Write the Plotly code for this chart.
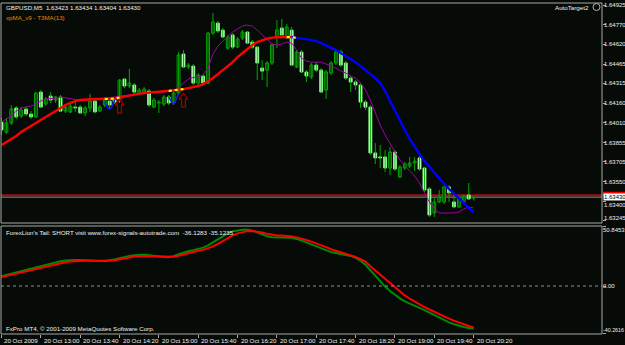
import plotly.graph_objects as go

# ---------------- data ----------------
bars = list(range(97))
open_ = [1.64015,1.63937,1.64007,1.64124,1.64061,1.64116,1.64077,1.64054,1.64248,1.64155,
         1.64217,1.64186,1.64209,1.64100,1.64093,1.64131,1.64131,1.64085,1.64124,1.64178,
         1.64100,1.64147,1.64178,1.64186,1.64186,1.64349,1.64295,1.64303,1.64240,1.64248,
         1.64256,1.64131,1.64163,1.64155,1.64209,1.64163,1.64240,1.64544,1.64443,1.64450,
         1.64318,1.64373,1.64318,1.64707,1.64785,1.64730,1.64590,1.64692,1.64598,1.64668,
         1.64715,1.64637,1.64598,1.64435,1.64419,1.64474,1.64676,1.64746,1.64676,1.64730,
         1.64443,1.64559,1.64404,1.64365,1.64458,1.64419,1.64264,1.64396,1.64474,1.64559,
         1.64474,1.64357,1.64326,1.64303,1.64170,1.64131,1.63774,1.63743,1.63743,1.63657,
         1.63781,1.63587,1.63657,1.63673,1.63696,1.63735,1.63657,1.63494,1.63307,1.63393,
         1.63393,1.63509,1.63393,1.63354,1.63393,1.63447,1.63423]
high = [1.64046,1.64046,1.64147,1.64139,1.64131,1.64139,1.64100,1.64248,1.64264,1.64209,
        1.64248,1.64217,1.64225,1.64155,1.64155,1.64170,1.64147,1.64139,1.64233,1.64194,
        1.64147,1.64209,1.64194,1.64201,1.64349,1.64357,1.64427,1.64318,1.64279,1.64287,
        1.64271,1.64201,1.64186,1.64225,1.64225,1.64256,1.64559,1.64575,1.64474,1.64466,
        1.64396,1.64388,1.64715,1.64863,1.64801,1.64746,1.64692,1.64707,1.64676,1.64730,
        1.64723,1.64653,1.64606,1.64497,1.64489,1.64629,1.64808,1.64816,1.64777,1.64754,
        1.64575,1.64575,1.64419,1.64474,1.64481,1.64435,1.64419,1.64489,1.64575,1.64575,
        1.64489,1.64373,1.64341,1.64318,1.64186,1.64147,1.63851,1.63836,1.63797,1.63820,
        1.63797,1.63680,1.63704,1.63743,1.63743,1.63750,1.63665,1.63509,1.63424,1.63486,
        1.63517,1.63525,1.63447,1.63431,1.63447,1.63540,1.63434]
low = [1.63914,1.63921,1.63991,1.64038,1.64046,1.64061,1.64038,1.64046,1.64124,1.64139,
       1.64163,1.64163,1.64093,1.64085,1.64085,1.64093,1.64077,1.64061,1.64093,1.64085,
       1.64093,1.64131,1.64124,1.64155,1.64163,1.64279,1.64279,1.64233,1.64225,1.64233,
       1.64131,1.64124,1.64085,1.64139,1.64147,1.64147,1.64225,1.64435,1.64427,1.64303,
       1.64303,1.64310,1.64310,1.64692,1.64707,1.64668,1.64575,1.64583,1.64590,1.64653,
       1.64622,1.64583,1.64341,1.64341,1.64287,1.64458,1.64590,1.64676,1.64660,1.64450,
       1.64435,1.64396,1.64326,1.64349,1.64404,1.64240,1.64194,1.64380,1.64458,1.64443,
       1.64341,1.64248,1.64264,1.64124,1.64108,1.63758,1.63688,1.63657,1.63626,1.63603,
       1.63634,1.63579,1.63641,1.63657,1.63634,1.63634,1.63470,1.63276,1.63276,1.63385,
       1.63377,1.63393,1.63346,1.63346,1.63385,1.63408,1.63404]
close = [1.63953,1.64007,1.64116,1.64054,1.64108,1.64077,1.64054,1.64240,1.64131,1.64194,
         1.64186,1.64209,1.64100,1.64131,1.64139,1.64124,1.64085,1.64124,1.64178,1.64093,
         1.64131,1.64194,1.64147,1.64170,1.64341,1.64295,1.64318,1.64248,1.64264,1.64271,
         1.64147,1.64186,1.64170,1.64209,1.64163,1.64240,1.64536,1.64443,1.64458,1.64318,
         1.64380,1.64318,1.64707,1.64793,1.64723,1.64676,1.64676,1.64598,1.64660,1.64715,
         1.64629,1.64598,1.64474,1.64411,1.64474,1.64614,1.64730,1.64692,1.64754,1.64458,
         1.64559,1.64404,1.64373,1.64458,1.64419,1.64248,1.64404,1.64474,1.64559,1.64458,
         1.64357,1.64326,1.64303,1.64170,1.64131,1.63774,1.63735,1.63735,1.63657,1.63781,
         1.63649,1.63665,1.63688,1.63696,1.63711,1.63649,1.63486,1.63291,1.63393,1.63431,
         1.63509,1.63463,1.63354,1.63424,1.63439,1.63416,1.63430]

xpma = [1.63836,1.63859,1.63883,1.63906,1.63937,1.63960,1.63984,1.64007,1.64030,1.64054,
        1.64077,1.64100,1.64124,1.64147,1.64163,1.64178,1.64186,1.64190,1.64194,1.64194,
        1.64194,1.64194,1.64194,1.64197,1.64205,1.64213,1.64225,1.64233,1.64236,1.64240,
        1.64244,1.64248,1.64252,1.64256,1.64256,1.64260,1.64264,1.64271,1.64279,1.64287,
        1.64295,1.64310,1.64334,1.64357,1.64388,1.64419,1.64450,1.64481,1.64520,1.64552,
        1.64583,1.64614,1.64637,1.64653,1.64664,1.64672,1.64676,1.64676,1.64676,1.64676,
        1.64668,1.64664,1.64660,1.64653,1.64645,1.64629,1.64614,1.64594,1.64575,1.64552,
        1.64528,1.64505,1.64481,1.64450,1.64419,1.64388,1.64357,1.64318,1.64256,1.64178,
        1.64100,1.64023,1.63953,1.63883,1.63820,1.63766,1.63711,1.63665,1.63618,1.63571,
        1.63533,1.63494,1.63455,1.63416,1.63385,1.63346,1.63315]
xpma_rising_end = 59
xpma_flat_spans = [(21, 24), (34, 37), (58, 60)]

t3ma = [1.64015,1.64038,1.64061,1.64100,1.64124,1.64131,1.64139,1.64155,1.64178,1.64194,
        1.64197,1.64201,1.64209,1.64205,1.64197,1.64190,1.64186,1.64186,1.64190,1.64194,
        1.64194,1.64197,1.64205,1.64209,1.64217,1.64221,1.64225,1.64233,1.64236,1.64240,
        1.64244,1.64244,1.64244,1.64248,1.64248,1.64256,1.64287,1.64318,1.64349,1.64361,
        1.64365,1.64380,1.64435,1.64544,1.64606,1.64645,1.64684,1.64715,1.64738,1.64762,
        1.64769,1.64762,1.64730,1.64692,1.64653,1.64622,1.64614,1.64622,1.64637,1.64629,
        1.64575,1.64513,1.64489,1.64481,1.64481,1.64481,1.64466,1.64450,1.64435,1.64411,
        1.64396,1.64373,1.64357,1.64318,1.64264,1.64186,1.64093,1.63991,1.63914,1.63844,
        1.63781,1.63719,1.63673,1.63634,1.63595,1.63540,1.63463,1.63393,1.63338,1.63307,
        1.63307,1.63307,1.63307,1.63315,1.63338,1.63354,1.63346]

dip1_bars = [21, 22, 23]
dip1_vals = [1.64170, 1.64116, 1.64186]
dip2_bars = [34, 35, 36]
dip2_vals = [1.64209, 1.64163, 1.64240]

arrow_bars = [24, 37]
arrow_prices = [1.64194, 1.64240]

alert_level = 1.63445
bid = close[-1]

tail_green = [8.3,9.4,10.5,11.6,12.7,13.8,14.9,16.0,17.1,18.1,
              19.1,20.0,20.9,21.6,22.0,22.1,22.0,21.7,21.4,21.2,
              21.1,21.2,21.6,22.4,23.5,24.6,25.5,26.1,26.4,26.4,
              26.0,25.4,24.9,24.5,24.4,25.2,26.9,28.4,29.5,30.4,
              31.3,32.5,34.4,36.9,39.7,42.4,44.6,46.3,47.3,47.7,
              47.6,46.9,45.5,43.7,42.1,41.4,41.3,41.4,41.3,40.8,
              39.9,38.6,37.0,35.3,33.6,31.8,30.0,28.7,27.9,27.3,
              26.6,25.5,23.8,21.4,18.0,13.5,8.5,3.6,-0.5,-4.2,
              -7.6,-10.5,-13.0,-15.1,-16.9,-18.6,-20.4,-22.5,-24.8,-27.0,
              -29.0,-30.8,-32.4,-33.7,-34.8,-35.6,-36.1283]
tail_red = [7.5,8.5,9.5,10.5,11.5,12.5,13.6,14.7,15.8,16.8,
            17.8,18.7,19.5,20.2,20.8,21.2,21.4,21.5,21.5,21.4,
            21.3,21.3,21.4,21.8,22.4,23.3,24.2,24.9,25.3,25.5,
            25.5,25.3,25.0,24.7,24.5,24.7,25.6,26.8,28.0,29.0,
            29.8,30.6,31.8,33.6,35.8,38.2,40.6,42.8,44.6,45.8,
            46.5,46.6,46.2,45.4,44.2,43.3,42.9,42.7,42.5,42.0,
            41.2,40.3,39.0,37.6,36.2,34.7,33.0,31.2,29.9,28.9,
            27.8,26.3,24.6,22.8,20.6,16.8,13.2,9.4,5.6,2.0,
            -1.5,-4.9,-8.0,-10.8,-13.3,-15.6,-17.8,-19.9,-22.0,-24.0,
            -25.9,-27.7,-29.4,-31.0,-32.5,-33.9,-35.1235]

price_ticks = [1.64925,1.64770,1.64620,1.64465,1.64315,1.64160,1.64010,
               1.63855,1.63705,1.63550,1.63400,1.63245]
osc_ticks = [50.8453, 0.0, -40.2616]
osc_tick_text = ["50.8453", "0.00", "-40.2616"]
time_tick_bars = [0, 8, 16, 24, 32, 40, 48, 56, 64, 72, 80, 88, 96]
time_tick_labels = ["20 Oct 2009", "20 Oct 13:00", "20 Oct 13:40", "20 Oct 14:20",
                    "20 Oct 15:00", "20 Oct 15:40", "20 Oct 16:20", "20 Oct 17:00",
                    "20 Oct 17:40", "20 Oct 18:20", "20 Oct 19:00", "20 Oct 19:40",
                    "20 Oct 20:20"]

# ---------------- style / layout ----------------
W, H = 625, 345
ML, MR, MT, MB = 1, 23, 3, 11
PW, PH = W - ML - MR, H - MT - MB
BG = "#070b07"
FONT = "Liberation Sans, Arial, sans-serif"
AXFONT = "Liberation Sans Narrow, Liberation Sans, Arial, sans-serif"
FS = 6.2
AXFS = 6.0
MAIN_RANGE = [1.63229, 1.64941]
OSC_RANGE = [-40.68, 50.85]
X_RANGE = [-0.1, 122.1]
main_dom = [(334 - 223) / PH, 1.0]
osc_dom = [0.0, (334 - 226) / PH]
px_price = (MAIN_RANGE[1] - MAIN_RANGE[0]) / 220.0


def px(xp):
    return (xp - ML) / PW


def py(yp):
    return (H - MB - yp) / PH


WICK = "#00a800"
BULL_LINE = "#00a800"
BEAR_FILL = "#ffffff"
BEAR_LINE = "#80ff80"

fig = go.Figure()

# wicks
wx, wy = [], []
for i, lo, hi in zip(bars, low, high):
    wx += [i, i, None]
    wy += [lo, hi, None]
fig.add_trace(go.Scatter(x=wx, y=wy, mode="lines", line=dict(color=WICK, width=1),
                         hoverinfo="skip", xaxis="x", yaxis="y"))

MIN_BODY = 0.000012
bull = [i for i in bars if close[i] > open_[i]]
bear = [i for i in bars if close[i] <= open_[i]]
fig.add_trace(go.Bar(x=bull, y=[max(close[i] - open_[i], MIN_BODY) for i in bull],
                     base=[open_[i] for i in bull], width=0.58,
                     marker=dict(color=BG, line=dict(color=BULL_LINE, width=1)),
                     xaxis="x", yaxis="y"))
fig.add_trace(go.Bar(x=bear, y=[max(open_[i] - close[i], MIN_BODY) for i in bear],
                     base=[close[i] for i in bear], width=0.58,
                     marker=dict(color=BEAR_FILL, line=dict(color=BEAR_LINE, width=1)),
                     xaxis="x", yaxis="y"))

# T3MA purple
fig.add_trace(go.Scatter(x=bars, y=t3ma, mode="lines", line=dict(color="#a000a8", width=1),
                         xaxis="x", yaxis="y"))
# dips in blue
for bx, bv in ((dip1_bars, dip1_vals), (dip2_bars, dip2_vals)):
    fig.add_trace(go.Scatter(x=bx, y=bv, mode="lines", line=dict(color="#1020ff", width=1.5,
                             shape="spline"), xaxis="x", yaxis="y"))

# xpMA red / blue / yellow
r = xpma_rising_end
fig.add_trace(go.Scatter(x=bars[:r + 1], y=xpma[:r + 1], mode="lines",
                         line=dict(color="#ff0000", width=2.4), xaxis="x", yaxis="y"))
fig.add_trace(go.Scatter(x=bars[r:], y=xpma[r:], mode="lines",
                         line=dict(color="#0000ff", width=2.4), xaxis="x", yaxis="y"))
for a, b in xpma_flat_spans:
    fig.add_trace(go.Scatter(x=bars[a:b + 1], y=xpma[a:b + 1], mode="lines",
                             line=dict(color="#ffff00", width=2.2, dash="dot"),
                             xaxis="x", yaxis="y"))

# arrows
ax_, ay_ = [], []
for b, p in zip(arrow_bars, arrow_prices):
    hh, th = 6 * px_price, 14 * px_price
    pts = [(0, 0), (0.9, -hh), (0.4, -hh), (0.4, -th), (-0.4, -th), (-0.4, -hh), (-0.9, -hh), (0, 0)]
    for dx, dy in pts:
        ax_.append(b + dx)
        ay_.append(p + dy)
    ax_.append(None)
    ay_.append(None)
fig.add_trace(go.Scatter(x=ax_, y=ay_, mode="lines", line=dict(color="#9a0000", width=1.3),
                         xaxis="x", yaxis="y"))

# oscillator
fig.add_trace(go.Scatter(x=bars, y=tail_green, mode="lines", line=dict(color="#008c00", width=2),
                         xaxis="x2", yaxis="y2"))
fig.add_trace(go.Scatter(x=bars, y=tail_red, mode="lines", line=dict(color="#ff0000", width=2),
                         xaxis="x2", yaxis="y2"))

shapes = [
    dict(type="line", xref="paper", x0=0, x1=1, yref="y", y0=alert_level, y1=alert_level,
         line=dict(color="#a01010", width=2), layer="below"),
    dict(type="line", xref="paper", x0=0, x1=1, yref="y", y0=bid, y1=bid,
         line=dict(color="#8c8c8c", width=1), layer="below"),
    dict(type="line", xref="paper", x0=0, x1=1, yref="y2", y0=0, y1=0,
         line=dict(color="#909090", width=1, dash="dot")),
    dict(type="rect", xref="paper", x0=0, x1=1, yref="paper", y0=main_dom[0], y1=main_dom[1],
         line=dict(color="#a8a8a8", width=1)),
    dict(type="rect", xref="paper", x0=0, x1=1, yref="paper", y0=osc_dom[0], y1=osc_dom[1],
         line=dict(color="#a8a8a8", width=1)),
    dict(type="circle", xref="paper", yref="paper", x0=px(593), x1=px(600), y0=py(10.5), y1=py(3.5),
         line=dict(color="#b0b0b0", width=1)),
    # red price-level marker box on the axis (its label is hidden behind the bid box)
    dict(type="rect", xref="paper", yref="y", x0=px(603), x1=px(625),
         y0=alert_level - 1.5 * px_price, y1=alert_level + 3.5 * px_price,
         fillcolor="#ff0000", line=dict(width=0)),
]

white = "#f0f0f0"
ann = []


def txt(xp, yp, s, color=white, anchor="left"):
    ann.append(dict(x=px(xp), y=py(yp), xref="paper", yref="paper", text=s, showarrow=False,
                    xanchor=anchor, yanchor="middle", font=dict(family=FONT, size=FS, color=color)))


txt(4, 7, f"GBPUSD,M5  {open_[-1]:.5f} {high[-1]:.5f} {low[-1]:.5f} {close[-1]:.5f}")
txt(4, 17.5, "xpMA_v9 - T3MA(13)", color="#e08a00")
txt(591, 7, "AutoTarget2", anchor="right")
txt(4, 232, f"ForexLion's Tail: SHORT visit www.forex-signals-autotrade.com  "
            f"{tail_green[-1]:.4f} {tail_red[-1]:.4f}")
txt(4, 328, "FxPro MT4, © 2001-2009 MetaQuotes Software Corp.")

for b, lab in zip(time_tick_bars, time_tick_labels):
    ann.append(dict(x=b, y=py(340), xref="x2", yref="paper", text=lab, showarrow=False,
                    xanchor="left", yanchor="middle", xshift=1,
                    font=dict(family=FONT, size=FS, color=white)))

# price-axis labels (as annotations so crowded ones can be nudged apart)
for v in price_ticks:
    if v == price_ticks[-1]:
        ya, ys = "bottom", -1
    elif abs(v - bid) < 0.0004:
        ya, ys = "middle", -4
    else:
        ya, ys = "middle", 0
    ann.append(dict(x=1, y=v, xref="paper", yref="y", text=f"{v:.5f}", showarrow=False,
                    xanchor="left", yanchor=ya, xshift=1, yshift=ys, borderpad=0,
                    font=dict(family=AXFONT, size=AXFS, color=white)))
for v, t in zip(osc_ticks, osc_tick_text):
    ya = "top" if v == osc_ticks[0] else ("bottom" if v == osc_ticks[-1] else "middle")
    fs = AXFS if len(t) < 8 else 5.3
    ann.append(dict(x=1, y=v, xref="paper", yref="y2", text=t, showarrow=False,
                    xanchor="left", yanchor=ya, xshift=0, borderpad=0,
                    font=dict(family=AXFONT, size=fs, color=white)))

ann.append(dict(x=1, y=bid, xref="paper", yref="y", text=f"{bid:.5f}",
                showarrow=False, xanchor="left", yanchor="middle", xshift=1, bgcolor="#ffffff",
                borderpad=0, font=dict(family=AXFONT, size=AXFS, color="#000000")))

axis_common = dict(showgrid=False, zeroline=False)
fig.update_layout(
    width=W, height=H, margin=dict(l=ML, r=MR, t=MT, b=MB),
    paper_bgcolor=BG, plot_bgcolor=BG, showlegend=False, barmode="overlay",
    xaxis=dict(domain=[0, 1], anchor="y", range=X_RANGE, showticklabels=False, ticks="",
               **axis_common),
    xaxis2=dict(domain=[0, 1], anchor="y2", range=X_RANGE, showticklabels=False,
                tickvals=time_tick_bars, ticks="outside", ticklen=3, tickcolor="#a8a8a8",
                **axis_common),
    yaxis=dict(domain=main_dom, anchor="x", range=MAIN_RANGE, side="right",
               tickvals=price_ticks, showticklabels=False,
               ticks="outside", ticklen=3, tickcolor="#a8a8a8", **axis_common),
    yaxis2=dict(domain=osc_dom, anchor="x2", range=OSC_RANGE, side="right",
                tickvals=osc_ticks, showticklabels=False,
                ticks="outside", ticklen=3, tickcolor="#a8a8a8", **axis_common),
    shapes=shapes, annotations=ann,
)

fig.write_html("out.html")
